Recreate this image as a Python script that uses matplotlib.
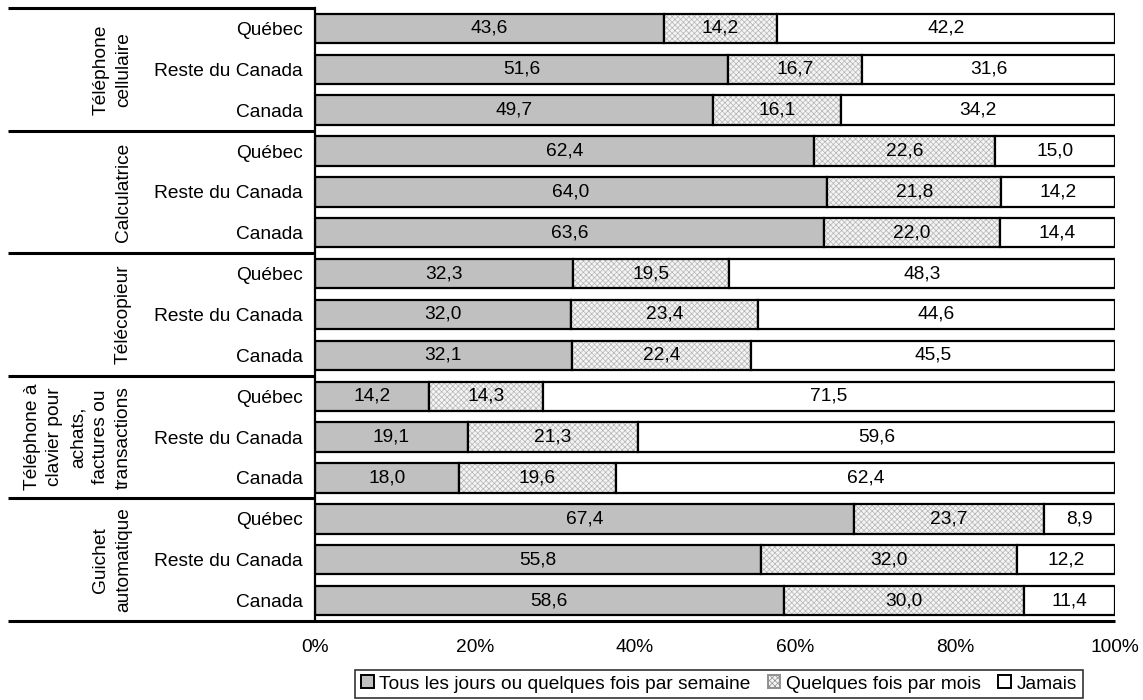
import matplotlib.pyplot as plt
from matplotlib.patches import Patch
import numpy as np

plt.rcParams['font.family'] = ['Liberation Sans', 'DejaVu Sans']
plt.rcParams['font.size'] = 13.8
plt.rcParams['hatch.linewidth'] = 0.5

groups = ["Téléphone\ncellulaire", "Calculatrice", "Télécopieur",
          "Téléphone à\nclavier pour\nachats,\nfactures ou\ntransactions",
          "Guichet\nautomatique"]
regions = ["Québec", "Reste du Canada", "Canada"]
series_names = ["Tous les jours ou quelques fois par semaine",
                "Quelques fois par mois", "Jamais"]

# one row per (group, region), top to bottom
weekly = [43.6, 51.6, 49.7, 62.4, 64.0, 63.6, 32.3, 32.0, 32.1,
          14.2, 19.1, 18.0, 67.4, 55.8, 58.6]
monthly = [14.2, 16.7, 16.1, 22.6, 21.8, 22.0, 19.5, 23.4, 22.4,
           14.3, 21.3, 19.6, 23.7, 32.0, 30.0]
never = [42.2, 31.6, 34.2, 15.0, 14.2, 14.4, 48.3, 44.6, 45.5,
         71.5, 59.6, 62.4, 8.9, 12.2, 11.4]

vals = np.array([weekly, monthly, never])
shares = vals / vals.sum(axis=0) * 100

fig = plt.figure(figsize=(11.43, 7.0), dpi=100)
ax = fig.add_axes([315 / 1143, 1 - 621 / 700, 800 / 1143, 613 / 700])

n = len(weekly)
y = np.arange(n)
h = 0.72
left = np.zeros(n)
for i in range(3):
    w = shares[i]
    if i == 0:
        ax.barh(y, w, left=left, height=h, color='#c0c0c0',
                edgecolor='black', linewidth=1.6)
    elif i == 1:
        ax.barh(y, w, left=left, height=h, color='#f4f4f4',
                edgecolor='#b4b4b4', hatch='xxxxxx', linewidth=0)
        ax.barh(y, w, left=left, height=h, color='none',
                edgecolor='black', linewidth=1.6)
    else:
        ax.barh(y, w, left=left, height=h, color='white',
                edgecolor='black', linewidth=1.6)
    for yy, l, ww, v in zip(y, left, w, vals[i]):
        ax.text(l + ww / 2, yy, f"{v:.1f}".replace('.', ','),
                ha='center', va='center')
    left = left + w

ax.set_xlim(0, 100)
ax.set_ylim(n - 0.5, -0.5)
ax.set_yticks(y)
ax.set_yticklabels(regions * len(groups))
ax.set_xticks([0, 20, 40, 60, 80, 100])
ax.set_xticklabels(["0%", "20%", "40%", "60%", "80%", "100%"])
ax.tick_params(axis='y', length=0, pad=9)
ax.tick_params(axis='x', length=0, pad=13)
for s in ['top', 'right', 'bottom']:
    ax.spines[s].set_visible(False)
ax.spines['left'].set_linewidth(1.6)

# separators and group labels in the label area
x0 = (8 - 315) / 800
tr = ax.get_yaxis_transform()
for k in range(len(groups) + 1):
    yb = k * 3 - 0.5
    x_end = 1.0 if k == len(groups) else 0.0
    ax.plot([x0, x_end], [yb, yb], color='black', lw=2.2,
            transform=tr, clip_on=False, solid_capstyle='butt')
for k, g in enumerate(groups):
    ax.text((132 - 315) / 800, k * 3 + 1, g, rotation=90, ha='right',
            va='center', multialignment='center', transform=tr,
            linespacing=1.45)

handles = [Patch(facecolor='#c0c0c0', edgecolor='black', lw=1.4),
           Patch(facecolor='#f4f4f4', edgecolor='#909090', hatch='xxxxxx', lw=1.4),
           Patch(facecolor='white', edgecolor='black', lw=1.4)]
leg = fig.legend(handles, series_names, loc='center',
                 bbox_to_anchor=(719 / 1143, 1 - 684 / 700), ncol=3,
                 frameon=True, fancybox=False, edgecolor='black',
                 handlelength=0.65, handleheight=0.65, handletextpad=0.3,
                 columnspacing=0.9, borderpad=0.3, borderaxespad=0)
leg.get_frame().set_linewidth(1.2)

fig.savefig('out.png', dpi=100)
